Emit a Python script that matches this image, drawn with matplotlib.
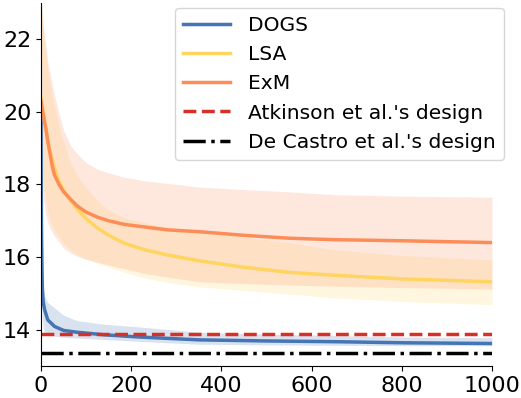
import numpy as np
import matplotlib
matplotlib.use("Agg")
import matplotlib.pyplot as plt

# DOGS: mean objective and spread per iteration
dogs_iter = [0, 1, 2, 3, 5, 8, 15, 30, 50, 80, 140, 215, 350, 500, 650, 800, 1000]
dogs_mean = [20.0, 16.8, 15.8, 15.1, 14.75, 14.55, 14.27, 14.09, 13.98, 13.93,
             13.86, 13.80, 13.72, 13.69, 13.67, 13.64, 13.62]
dogs_hi = [20.4, 17.6, 16.5, 15.8, 15.3, 14.92, 14.75, 14.6, 14.4, 14.25,
           14.15, 14.08, 13.93, 13.88, 13.84, 13.80, 13.78]
dogs_lo = [19.6, 15.8, 15.0, 14.3, 14.05, 13.95, 13.87, 13.82, 13.79, 13.77,
           13.73, 13.68, 13.60, 13.58, 13.57, 13.56, 13.56]

# LSA and ExM share the same iteration grid
it = [0, 5, 10, 15, 20, 25, 30, 40, 50, 65, 80, 100, 125, 150, 185, 230, 280,
      350, 450, 550, 650, 800, 1000]
lsa_mean = [20.37, 20.0, 19.6, 19.2, 18.9, 18.68, 18.45, 18.08, 17.85, 17.56,
            17.33, 17.06, 16.8, 16.6, 16.38, 16.2, 16.06, 15.9, 15.72, 15.58,
            15.5, 15.4, 15.32]
lsa_hi = [23.2, 22.3, 21.7, 21.2, 20.8, 20.45, 20.15, 19.6, 19.2, 18.62, 18.25,
          17.92, 17.55, 17.3, 17.08, 16.95, 16.83, 16.72, 16.55, 16.4, 16.2,
          16.05, 15.92]
lsa_lo = [19.5, 18.0, 17.6, 17.25, 17.0, 16.85, 16.75, 16.55, 16.38, 16.2,
          16.07, 15.95, 15.83, 15.72, 15.58, 15.42, 15.3, 15.18, 15.08, 14.98,
          14.88, 14.78, 14.69]
exm_mean = [20.3, 19.9, 19.6, 19.2, 18.85, 18.5, 18.26, 18.0, 17.8, 17.6,
            17.41, 17.24, 17.1, 17.0, 16.9, 16.83, 16.75, 16.7, 16.6, 16.52,
            16.48, 16.45, 16.4]
exm_hi = [23.0, 22.4, 21.9, 21.4, 21.06, 20.75, 20.45, 19.95, 19.5, 19.08,
          18.85, 18.6, 18.42, 18.32, 18.2, 18.1, 18.03, 17.93, 17.86, 17.8,
          17.72, 17.68, 17.65]
exm_lo = [19.0, 17.6, 17.2, 16.95, 16.8, 16.68, 16.58, 16.42, 16.25, 16.12,
          16.02, 15.94, 15.86, 15.78, 15.68, 15.55, 15.45, 15.32, 15.27, 15.23,
          15.2, 15.16, 15.12]

atkinson = 13.89
de_castro = 13.37

c_dogs = "#4575b4"
c_lsa = "#ffd55f"
c_exm = "#fc8d59"
c_atk = "#d73027"

fig = plt.figure(figsize=(5.21, 3.98), dpi=100)
ax = fig.add_axes([0.0787, 0.0804, 0.8656, 0.9121])

ax.fill_between(dogs_iter, dogs_lo, dogs_hi, color=c_dogs, alpha=0.2, lw=0)
ax.fill_between(it, lsa_lo, lsa_hi, color=c_lsa, alpha=0.2, lw=0)
ax.fill_between(it, exm_lo, exm_hi, color=c_exm, alpha=0.2, lw=0)

ax.plot(dogs_iter, dogs_mean, color=c_dogs, lw=2.5, label="DOGS")
ax.plot(it, lsa_mean, color=c_lsa, lw=2.5, label="LSA")
ax.plot(it, exm_mean, color=c_exm, lw=2.5, label="ExM")
ax.axhline(atkinson, color=c_atk, lw=2.5, ls="--", label="Atkinson et al.'s design")
ax.axhline(de_castro, color="black", lw=2.5, ls="-.", label="De Castro et al.'s design")

ax.set_xlim(0, 1000)
ax.set_ylim(13, 23)
ax.set_xticks([0, 200, 400, 600, 800, 1000])
ax.set_yticks([14, 16, 18, 20, 22])
ax.tick_params(labelsize=16)
ax.spines["top"].set_visible(False)
ax.spines["right"].set_visible(False)

ax.legend(loc="upper right", bbox_to_anchor=(1.027, 0.986), borderaxespad=0,
          fontsize=14.6, handlelength=2.3, handletextpad=0.9)

fig.savefig("out.png", dpi=100)
